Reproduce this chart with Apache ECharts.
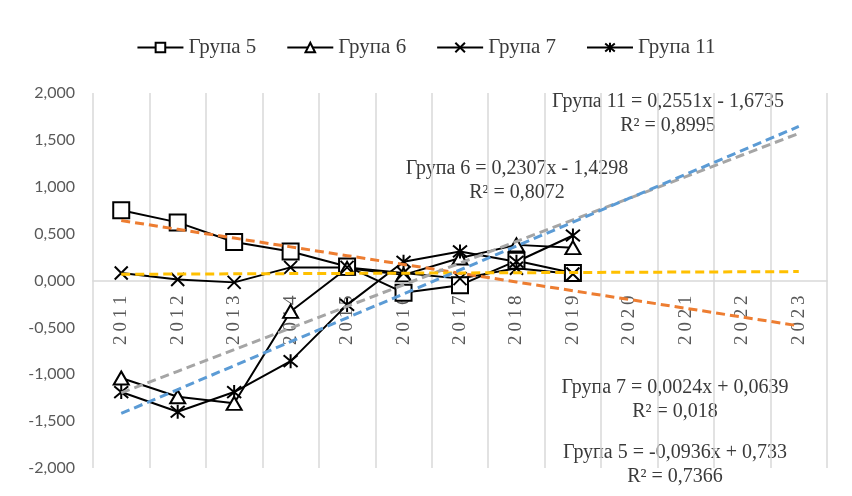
<!DOCTYPE html>
<html>
<head>
<meta charset="utf-8">
<script src="https://cdn.jsdelivr.net/npm/echarts@6/dist/echarts.min.js"></script>
<style>
  html, body { margin: 0; padding: 0; background: #fff; }
  #chart { width: 852px; height: 496px; }
</style>
</head>
<body>
<div id="chart"></div>
<script>
// Years on the category axis (observed 2011–2019, forecast to 2023)
const years = ['2011','2012','2013','2014','2015','2016','2017','2018','2019','2020','2021','2022','2023'];

// Observed values per group
const group5  = [0.75, 0.62, 0.41, 0.31, 0.15, -0.13, -0.05, 0.21, 0.08];
const group6  = [-1.04, -1.24, -1.31, -0.33, 0.13, 0.06, 0.24, 0.38, 0.35];
const group7  = [0.08, 0.01, -0.02, 0.14, 0.14, 0.08, 0.02, 0.13, 0.07];
const group11 = [-1.19, -1.40, -1.19, -0.86, -0.26, 0.20, 0.31, 0.20, 0.48];

// Linear trend coefficients (y = slope·x + intercept, x = 1 for 2011) and R²
const names      = ['Група 5', 'Група 6', 'Група 7', 'Група 11'];
const slopes     = [-0.0936, 0.2307, 0.0024, 0.2551];
const intercepts = [0.733, -1.4298, 0.0639, -1.6735];
const r2         = [0.7366, 0.8072, 0.018, 0.8995];

// Y axis ticks
const yMin = -2, yMax = 2, yStep = 0.5;

const trendColors = ['#ED7D31', '#A5A5A5', '#FFC000', '#5B9BD5'];
const symbols = [
  'rect',
  'triangle',
  'path://M0,0L10,10M10,0L0,10',
  'path://M0,0L10,10M10,0L0,10M5,-1L5,11'
];
const symbolSizes = [16, [15, 13], 13, 14];
const groups = [group5, group6, group7, group11];

const comma = v => String(v).replace('.', ',');

function trend(i) {
  return years.map((_, k) => +(slopes[i] * (k + 1) + intercepts[i]).toFixed(4));
}

function equation(i) {
  const b = intercepts[i];
  return names[i] + ' = ' + comma(slopes[i]) + 'x ' + (b < 0 ? '- ' : '+ ') + comma(Math.abs(b));
}

const serif = '"Liberation Serif", "DejaVu Serif", serif';

const W = 852, H = 496;
const gridBox = { left: 93, right: 25, top: 93, bottom: 28 };
const plotH = H - gridBox.top - gridBox.bottom;
// distance from the bottom of the plot to the zero line
const zeroOffset = plotH * (0 - yMin) / (yMax - yMin);

const series = [];
groups.forEach((vals, i) => {
  series.push({
    name: names[i],
    type: 'line',
    data: vals,
    symbol: symbols[i],
    symbolSize: symbolSizes[i],
    showAllSymbol: true,
    lineStyle: { color: '#000', width: 2 },
    itemStyle: { color: '#fff', borderColor: '#000', borderWidth: 2 },
    z: 3
  });
});
groups.forEach((vals, i) => {
  series.push({
    name: names[i] + ' trend',
    type: 'line',
    data: trend(i),
    showSymbol: false,
    silent: true,
    lineStyle: { color: trendColors[i], width: 3, type: [9, 5] },
    z: 4
  });
});

// Trend equation labels: [group index, x, y]
const eqPlaces = [
  [3, 668, 102],
  [1, 517, 169],
  [2, 675, 388],
  [0, 675, 453]
];
const eqFont = '20px ' + serif;
const graphics = [];
eqPlaces.forEach(([i, x, y]) => {
  graphics.push({
    type: 'text', x: x, y: y,
    style: { text: equation(i), font: eqFont, fill: '#3a3a3a', align: 'center', verticalAlign: 'middle' }
  });
  graphics.push({
    type: 'text', x: x, y: y + 24,
    style: { text: 'R² = ' + comma(r2[i]), font: eqFont, fill: '#3a3a3a', align: 'center', verticalAlign: 'middle' }
  });
});

const chart = echarts.init(document.getElementById('chart'));
chart.setOption({
  animation: false,
  backgroundColor: '#fff',
  legend: {
    data: names,
    top: 32,
    left: 'center',
    itemWidth: 46,
    itemHeight: 12,
    itemGap: 30,
    textStyle: { fontFamily: serif, fontSize: 21, color: '#3a3a3a' }
  },
  grid: Object.assign({ outerBoundsMode: 'none', containLabel: false }, gridBox),
  xAxis: {
    type: 'category',
    data: years,
    boundaryGap: true,
    offset: -zeroOffset,
    axisLine: { onZero: false, lineStyle: { color: '#d9d9d9', width: 1.5 } },
    axisTick: { show: false },
    axisLabel: {
      rotate: 90,
      interval: 0,
      margin: 15,
      fontFamily: serif,
      fontSize: 19,
      color: '#595959',
      formatter: v => v.split('').join('\u2009')
    },
    splitLine: { show: true, interval: 0, lineStyle: { color: '#d9d9d9', width: 1.5 } }
  },
  yAxis: {
    type: 'value',
    min: yMin,
    max: yMax,
    interval: yStep,
    axisLine: { show: false },
    axisTick: { show: false },
    splitLine: { show: false },
    axisLabel: {
      margin: 18,
      fontFamily: 'Lato',
      fontSize: 16,
      color: '#595959',
      formatter: v => v.toFixed(3).replace('.', ',')
    }
  },
  series: series,
  graphic: graphics
});
</script>
</body>
</html>
